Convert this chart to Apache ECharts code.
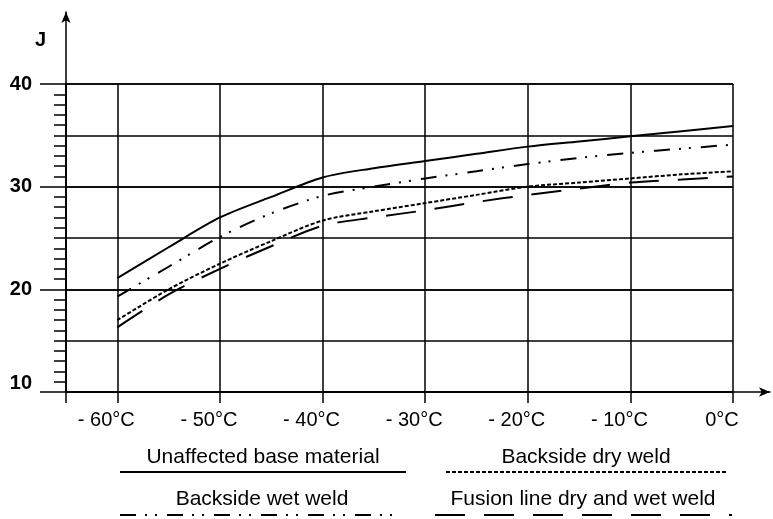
<!DOCTYPE html>
<html><head><meta charset="utf-8">
<script src="https://cdn.jsdelivr.net/npm/echarts@6/dist/echarts.min.js"></script>
<style>html,body{margin:0;padding:0;background:#fff}#c{width:773px;height:519px}</style>
</head><body><div id="c"></div>
<script>
const temps = [-60,-55,-50,-45,-40,-35,-30,-25,-20,-15,-10,-5,0];
const baseMaterial = [21.1,24.1,27.0,29.0,30.9,31.8,32.5,33.2,33.9,34.4,34.9,35.4,35.9];
const dryWeld = [17.0,20.0,22.5,24.7,26.7,27.6,28.4,29.2,30.0,30.4,30.8,31.2,31.5];
const wetWeld = [19.3,22.2,25.1,27.4,29.1,30.0,30.8,31.5,32.2,32.8,33.3,33.7,34.1];
const fusionLine = [16.3,19.5,22.0,24.2,26.2,27.0,27.7,28.5,29.2,29.8,30.4,30.7,31.0];
const seriesNames = ['Unaffected base material','Backside dry weld','Backside wet weld','Fusion line dry and wet weld'];
const xTicks = [-60,-50,-40,-30,-20,-10,0];
const yTickLabels = [10,20,30,40];
const yUnit = 'J';

const FONT = '"Liberation Sans", Arial, Helvetica, sans-serif';
const BLACK = '#000';
const dashes = {
  solid: 'solid',
  dry: [4, 2],
  wet: [16, 9, 2, 8, 2, 10],
  fusion: [30, 19]
};
const seriesData = [baseMaterial, dryWeld, wetWeld, fusionLine];
const seriesDash = [dashes.solid, dashes.dry, dashes.wet, dashes.fusion];

const chart = echarts.init(document.getElementById('c'), null, {renderer: 'canvas'});

const fmtX = v => (v === 0 ? '0°C' : '- ' + Math.abs(v) + '°C');

const legendPos = [
  {cx: 263, ty: 457, x1: 120, x2: 406, ly: 472},
  {cx: 586, ty: 457, x1: 446, x2: 728, ly: 472},
  {cx: 262, ty: 499, x1: 120, x2: 402, ly: 515},
  {cx: 583, ty: 499, x1: 435, x2: 732, ly: 515}
];
const graphics = [];
seriesNames.forEach((n, i) => {
  const p = legendPos[i];
  graphics.push({
    type: 'text', x: p.cx, y: p.ty,
    style: {text: n, fontSize: 21, fontFamily: FONT, fill: BLACK, align: 'center', verticalAlign: 'middle'}
  });
  graphics.push({
    type: 'line', shape: {x1: p.x1, y1: p.ly, x2: p.x2, y2: p.ly},
    style: {stroke: BLACK, lineWidth: 2, lineDash: seriesDash[i] === 'solid' ? null : seriesDash[i]}
  });
});

const option = {
  backgroundColor: '#fff',
  animation: false,
  textStyle: {fontFamily: FONT},
  grid: [
    {left: 66, top: 84, width: 667, height: 308},
    {left: 66, top: 12, width: 704, height: 380}
  ],
  xAxis: [
    {
      gridIndex: 0, type: 'value', min: -65, max: 0,
      axisLine: {show: true, onZero: false, lineStyle: {color: BLACK, width: 1.5}},
      axisTick: {show: true, customValues: [-65].concat(xTicks), length: 11, lineStyle: {color: BLACK, width: 1.5}},
      axisLabel: {
        show: true, customValues: xTicks, margin: 18,
        formatter: v => '{a|' + fmtX(v) + '}',
        rich: {a: {fontSize: 20, fontFamily: FONT, color: BLACK, padding: [0, 22, 0, 0]}}
      },
      splitLine: {show: true, lineStyle: {color: BLACK, width: 1.5}}
    },
    {
      gridIndex: 1, type: 'value', min: 0, max: 1,
      axisLine: {show: true, onZero: false, symbol: ['none', 'arrow'], symbolSize: [7, 11], lineStyle: {color: BLACK, width: 1.5}},
      axisTick: {show: false}, axisLabel: {show: false}, splitLine: {show: false}
    }
  ],
  yAxis: [
    {
      gridIndex: 0, type: 'value', min: 10, max: 40, interval: 10, position: 'left',
      axisLine: {show: true, onZero: false, lineStyle: {color: BLACK, width: 1.5}},
      axisTick: {show: true, length: 26, lineStyle: {color: BLACK, width: 1.5}},
      minorTick: {show: true, splitNumber: 10, length: 12, lineStyle: {color: BLACK, width: 1.5}},
      axisLabel: {
        show: true, margin: 34,
        formatter: v => (yTickLabels.indexOf(v) < 0 ? '' : (v === 10 ? '{lo|' + v + '}' : '{n|' + v + '}')),
        rich: {
          n: {fontSize: 20, fontWeight: 'bold', fontFamily: FONT, color: BLACK},
          lo: {fontSize: 20, fontWeight: 'bold', fontFamily: FONT, color: BLACK, padding: [0, 0, 18, 0]}
        }
      },
      splitLine: {show: true, lineStyle: {color: BLACK, width: 1.5}}
    },
    {
      gridIndex: 0, type: 'value', min: 10, max: 40, interval: 5, position: 'left',
      axisLine: {show: false}, axisTick: {show: false}, axisLabel: {show: false},
      splitLine: {show: true, lineStyle: {color: BLACK, width: 1.5}}
    },
    {
      gridIndex: 1, type: 'value', min: 0, max: 1, position: 'left',
      name: yUnit, nameLocation: 'end', nameGap: -38,
      nameTextStyle: {fontSize: 20, fontWeight: 'bold', fontFamily: FONT, color: BLACK, align: 'right', padding: [0, 20, 0, 0]},
      axisLine: {show: true, onZero: false, symbol: ['none', 'arrow'], symbolSize: [7, 11], lineStyle: {color: BLACK, width: 1.5}},
      axisTick: {show: false}, axisLabel: {show: false}, splitLine: {show: false}
    }
  ],
  series: seriesNames.map((n, i) => ({
    name: n, type: 'line', xAxisIndex: 0, yAxisIndex: 0,
    data: temps.map((t, j) => [t, seriesData[i][j]]),
    symbol: 'none', smooth: 0.3, z: 5,
    lineStyle: {color: BLACK, width: 2, type: seriesDash[i]}
  })),
  graphic: graphics
};
chart.setOption(option);
</script>
</body></html>
